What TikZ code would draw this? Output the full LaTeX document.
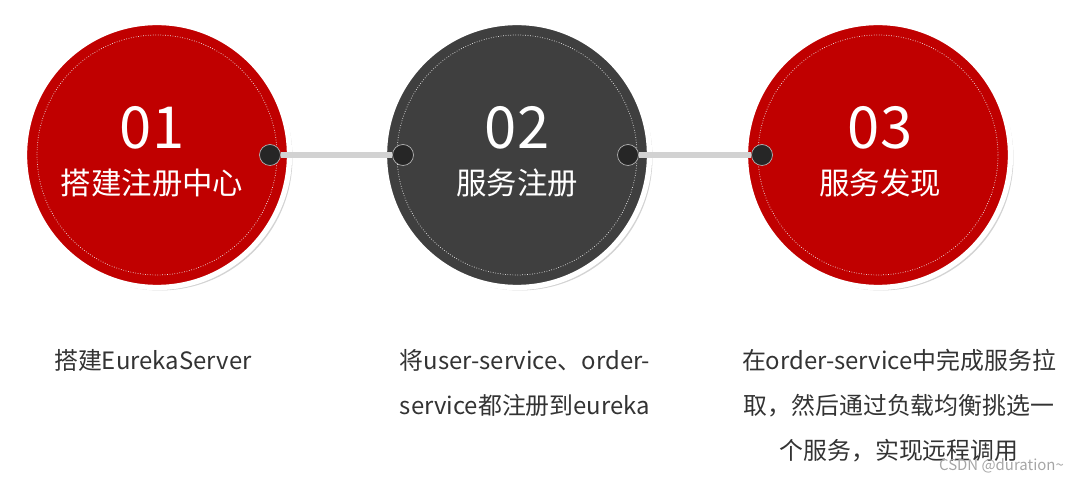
\documentclass[tikz,border=0pt]{standalone}
\usepackage{fontspec}
\setmainfont{Noto Sans CJK SC}
\usetikzlibrary{positioning, shadows}
\definecolor{stepred}{HTML}{C00000}
\definecolor{stepgray}{HTML}{3F3F3F}
\tikzset{
  disc/.style={circle,draw=white,line width=3pt,minimum size=5.3cm,drop shadow={opacity=.35,shadow xshift=.6mm,shadow yshift=-.6mm}},
  ring/.style={circle,draw=white!85!gray,densely dotted,thin,minimum size=4.8cm},
  knob/.style={circle,fill=black!85,draw=gray!60,thin,minimum size=.42cm,inner sep=0pt},
  num/.style={text=white,font=\fontsize{33}{36}\selectfont},
  title/.style={text=white,font=\fontsize{17.3}{20}\selectfont},
  caption/.style={font=\fontsize{13.6}{25.5}\selectfont,text=black!80,align=center},
  bar/.style={line width=3pt,gray!35},
}
\begin{document}
\begin{tikzpicture}[x=0.02cm,y=-0.02cm]
  \useasboundingbox (0,0) rectangle (1079,482);
  % circles
  \node[disc,fill=stepred] (A) at (157,155) {};
  \node[disc,fill=stepgray] (B) at (517,155) {};
  \node[disc,fill=stepred] (C) at (878,155) {};
  \foreach \n in {A,B,C} \node[ring] at (\n) {};
  % connectors
  \node[knob] (a1) at (270,155) {};
  \node[knob] (b1) at (403,155) {};
  \node[knob] (b2) at (628,155) {};
  \node[knob] (c1) at (762,155) {};
  \draw[bar] (a1) -- (b1);
  \draw[bar] (b2) -- (c1);
  % labels
  \node[num] (nA) at (152,128) {01};
  \node[num] (nB) at (517,128) {02};
  \node[num] (nC) at (880,128) {03};
  \node[title] (tA) at (152,183) {搭建注册中心};
  \node[title] (tB) at (517,183) {服务注册};
  \node[title] (tC) at (880,183) {服务发现};
  % captions
  \node[caption,anchor=west] (cA) at (48,360) {搭建EurekaServer};
  \node[caption,anchor=north] (cB) at (525,343) {将user-service、order-\\service都注册到eureka};
  \node[caption,anchor=north] (cC) at (899,343) {在order-service中完成服务拉\\取，然后通过负载均衡挑选一\\个服务，实现远程调用};
  \node[anchor=east,text=gray!70,font=\fontsize{8.5}{10}\selectfont] (wm) at (1070,466) {CSDN @duration\textasciitilde};
\end{tikzpicture}
\end{document}
